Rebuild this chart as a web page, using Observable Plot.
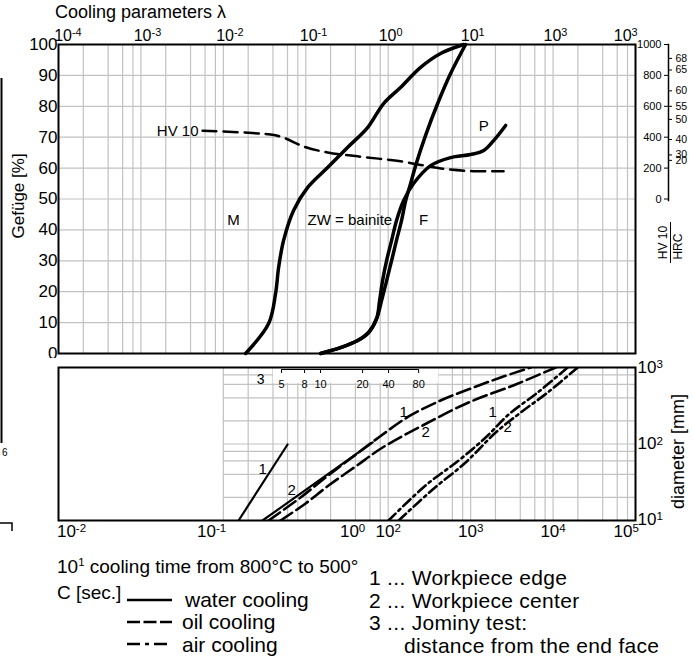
<!DOCTYPE html>
<html><head><meta charset="utf-8">
<script src="https://cdn.jsdelivr.net/npm/d3@7"></script>
<script src="https://cdn.jsdelivr.net/npm/@observablehq/plot@0.6"></script>
<style>
body{margin:0;background:#fff;font-family:"Liberation Sans",Arial,sans-serif;}
#wrap{position:relative;width:693px;height:658px;overflow:hidden;background:#fff;}
.t{position:absolute;white-space:nowrap;color:#000;line-height:1;}
.abs{position:absolute;}
</style></head><body><div id="wrap">
<div id="topPlot" class="abs" style="left:0;top:0"></div>
<div id="botPlot" class="abs" style="left:0;top:358px"></div>
</div>
<script>
// ---------- TOP PANEL DATA ----------
const pctTicks = [0,10,20,30,40,50,60,70,80,90,100];
const topTickLabels = ["10⁻⁴","10⁻³","10⁻²","10⁻¹","10⁰","10¹","10³","10³"];
const topTickLabelLambda = [1.3e-4, 1.2e-3, 1.2e-2, 0.124, 1.07, 10.6, 107, 760];
const hvTicks = [0,200,400,600,800,1000];
const hrcTicks = [68,65,60,55,50,40,30,20];
const hrcAsHV = [910,835,700,600,515,385,285,250];

// Martensite / bainite boundary
const mLambda = [0.0186,0.0354,0.043,0.0468,0.0538,0.0711,0.105,0.184,0.321,0.562,0.879,1.41,2.47,4.32,8.22];
const mPct    = [0,9.7,19.4,27.8,36.6,46.3,53.7,60.2,66.7,73.1,80.9,86.1,92.6,97.1,100];
// bainite / ferrite boundary
const fLambda = [0.151,0.264,0.426,0.578,0.723,0.832,0.957,1.10,1.26,1.45,1.63,1.87,2.15,2.84,3.98,5.71,8.69];
const fPct    = [0,1.9,4.2,6.8,11.3,17.2,23.6,30.1,36.6,43.0,49.5,55.0,60.8,70.6,80.9,90.6,100];
// ferrite / pearlite boundary
const pLambda = [0.151,0.264,0.426,0.578,0.723,0.787,0.855,0.957,1.10,1.26,1.54,2.03,3.27,5.71,9.98,14.4,19.0,26.6];
const pPct    = [0,1.9,4.2,6.8,11.3,17.2,23.6,30.1,36.6,43.0,49.5,55.0,60.8,63.4,64.4,65.7,68.9,73.8];
// hardness HV 10
const hvLambda = [0.0056,0.0374,0.0538,0.094,0.184,0.426,1.41,3.01,5.26,10.9,25.1];
const hvValues = [442,417,397,340,301,276,244,212,192,180,180];

const phaseLabels = ["M","F","P"];
const phaseLambda = [0.0133,2.69,14.4];
const phasePct = [43,43,73.5];
const bainiteLabel = "ZW = bainite", bainiteLambda = 0.105, bainitePct = 43;

// ---------- BOTTOM PANEL DATA ----------
const botTickLabels = ["10⁻²","10⁻¹","10⁰","10²","10³","10⁴","10⁵"];
const botTickT = [0.0144,0.72,37,100,1000,10000,77000];
const diamLabels = ["10³","10²","10¹"];
const diamValues = [1000,100,10.4];
const gridD = [20,40,60,80,100,200,400,600,800];

const water1T = [1.53,6.01], water1D = [10,98.5];
const water2T = [2.99,64.7], water2D = [10,104.7];
const oil1T = [3.54,8.65,17.4,35.0,76.4,177,432,1000,2313,5350];
const oil1D = [10,20,36.5,64.6,121.6,229,370,531,740,1000];
const oil2T = [4.94,9.95,18.9,40.2,85.5,261,946,3516,10760];
const oil2D = [10,16.7,28.7,50.8,90,174.6,349,600,1000];
const air1T = [101,284,715,1521,2892,6505,15040];
const air1D = [10,28.7,60.8,121.6,243,471,1000];
const air2T = [134,346,869,2011,4045,8600,19900];
const air2D = [10,25.4,57.3,141,258,471,1000];

const curveLabels = ["1","2","1","2","1","2"];
const curveLabelT = [2.99,6.72,154,284,1849,2812];
const curveLabelD = [46.4,24.7,258,141,258,164];

const jominyLabels = ["5","8","10","20","40","80"];
const jominyT = [5.08,9.67,15.1,48.9,101,234];

// ---------- helpers ----------
const font = '"Liberation Sans", Arial, sans-serif';
const pts = (xs, ys) => xs.map((x,i)=>({x, y: ys[i]}));
const gridMult = [2,4,6,8,10];
const topGridLambda = [];
for (let k=-4;k<=2;k++) for (const m of gridMult) topGridLambda.push(m*Math.pow(10,k));
const botGridT = [1];
for (let k=0;k<=4;k++) for (const m of gridMult) botGridT.push(m*Math.pow(10,k));
const gridColor = "#c2c2c2";

// ---------- TOP PLOT ----------
const topPlot = Plot.plot({
  width: 693, height: 362,
  marginTop: 44, marginBottom: 9, marginLeft: 58, marginRight: 58,
  x: {type: "log", domain: [1e-4, 1e3], axis: null},
  y: {domain: [0, 100], axis: null},
  style: {fontFamily: font, background: "white", color: "black", overflow: "visible"},
  marks: [
    Plot.ruleX(topGridLambda, {stroke: gridColor, strokeWidth: 1.2}),
    Plot.ruleY(pctTicks.slice(1,-1), {stroke: gridColor, strokeWidth: 1.2}),
    Plot.text(phaseLabels, {x: phaseLambda, y: phasePct, text: d=>d, textAnchor: "middle", fontSize: 15}),
    Plot.text([bainiteLabel], {x: [bainiteLambda], y: [bainitePct], text: d=>d, textAnchor: "start", fontSize: 15}),
    Plot.text(["HV 10"], {x: [0.005], y: [72], text: d=>d, textAnchor: "end", fontSize: 15}),
    Plot.line(pts(hvLambda, hvValues.map(v=>50+v/20)), {x:"x", y:"y", stroke:"black", strokeWidth: 2.5, strokeDasharray: "14,7", curve: "catmull-rom"}),
    Plot.line(pts(mLambda, mPct), {x:"x", y:"y", stroke:"black", strokeWidth: 3.5, curve: "catmull-rom"}),
    Plot.line(pts(fLambda, fPct), {x:"x", y:"y", stroke:"black", strokeWidth: 3.5, curve: "catmull-rom"}),
    Plot.line(pts(pLambda, pPct), {x:"x", y:"y", stroke:"black", strokeWidth: 3.5, curve: "catmull-rom"}),
    Plot.frame({stroke: "black", strokeWidth: 2}),
    Plot.axisY(pctTicks, {anchor: "left", tickSize: 0, tickPadding: 1, fontSize: 17, label: null}),
    Plot.text(["Gefüge [%]"], {frameAnchor: "left", y: [51], text: d=>d, rotate: -90, dx: -40, textAnchor: "middle", fontSize: 17}),
    Plot.text(topTickLabels, {x: topTickLabelLambda, text: d=>d, frameAnchor: "top", dy: -15, fontSize: 16, textAnchor: "middle"}),
    // hardness axis on the right
    Plot.frame({anchor: "right", dx: 33, insetBottom: 153, stroke: "black", strokeWidth: 1.5}),
    Plot.ruleY(hvTicks, {y: d=>50+d/20, insetLeft: 606, insetRight: -33, stroke: "black", strokeWidth: 1}),
    Plot.ruleY(hrcTicks, {y: (d,i)=>50+hrcAsHV[i]/20, insetLeft: 610, insetRight: -37, stroke: "black", strokeWidth: 1}),
    Plot.text(hvTicks, {y: d=>50+d/20, text: d=>String(d), frameAnchor: "right", dx: 26, textAnchor: "end", fontSize: 11}),
    Plot.text(hrcTicks, {y: (d,i)=>50+hrcAsHV[i]/20, text: d=>String(d), frameAnchor: "right", dx: 40, textAnchor: "start", fontSize: 10.5}),
    Plot.text(["HV 10"], {frameAnchor: "right", y: [35.9], text: d=>d, rotate: -90, dx: 28, textAnchor: "middle", fontSize: 12}),
    Plot.frame({anchor: "right", dx: 35, insetTop: 178, insetBottom: 91, stroke: "black", strokeWidth: 1}),
    Plot.text(["HRC"], {frameAnchor: "right", y: [34.6], text: d=>d, rotate: -90, dx: 43, textAnchor: "middle", fontSize: 12})
  ]
});
document.getElementById("topPlot").appendChild(topPlot);

// ---------- BOTTOM PLOT ----------
const botPlot = Plot.plot({
  width: 693, height: 192,
  marginTop: 9, marginBottom: 30, marginLeft: 58, marginRight: 58,
  x: {type: "log", domain: [1e-2, 1e5], axis: null},
  y: {type: "log", domain: [10, 1000], axis: null},
  style: {fontFamily: font, background: "white", color: "black", overflow: "visible"},
  marks: [
    Plot.ruleX(botGridT, {y1: 10, y2: 1000, stroke: gridColor, strokeWidth: 1.2}),
    Plot.ruleY(gridD, {x1: 1, x2: 1e5, stroke: gridColor, strokeWidth: 1.2}),
    Plot.rect([0], {x1: jominyT[0]*0.8, x2: jominyT[5]*1.75, y1: 617, y2: 1000, fill: "white"}),
    Plot.ruleY([10], {x1: jominyT[0], x2: jominyT[5], dy: -151, stroke: "black", strokeWidth: 1.2}),
    Plot.tickX(jominyT, {x: d=>d, insetTop: 2, insetBottom: 147, stroke: "black", strokeWidth: 1}),
    Plot.text(jominyLabels, {x: jominyT, text: d=>d, frameAnchor: "top", dy: 13, textAnchor: "middle", fontSize: 11}),
    Plot.text(["3"], {x: [2.83], text: d=>d, frameAnchor: "top", dy: 7, textAnchor: "middle", fontSize: 14}),
    Plot.line(pts(water1T, water1D), {x:"x", y:"y", stroke:"black", strokeWidth: 2.2, clip: true}),
    Plot.line(pts(water2T, water2D), {x:"x", y:"y", stroke:"black", strokeWidth: 2.2, clip: true}),
    Plot.line(pts(oil1T, oil1D), {x:"x", y:"y", stroke:"black", strokeWidth: 2.6, strokeDasharray: "14,5", curve: "catmull-rom", clip: true}),
    Plot.line(pts(oil2T, oil2D), {x:"x", y:"y", stroke:"black", strokeWidth: 2.6, strokeDasharray: "14,5", curve: "catmull-rom", clip: true}),
    Plot.line(pts(air1T, air1D), {x:"x", y:"y", stroke:"black", strokeWidth: 2.6, strokeDasharray: "10,4,2.5,4", curve: "catmull-rom", clip: true}),
    Plot.line(pts(air2T, air2D), {x:"x", y:"y", stroke:"black", strokeWidth: 2.6, strokeDasharray: "10,4,2.5,4", curve: "catmull-rom", clip: true}),
    Plot.text(curveLabels, {x: curveLabelT, y: curveLabelD, text: d=>d, textAnchor: "middle", fontSize: 15}),
    Plot.frame({stroke: "black", strokeWidth: 2}),
    Plot.text(botTickLabels, {x: botTickT, text: d=>d, frameAnchor: "bottom", dy: 16, textAnchor: "middle", fontSize: 17}),
    Plot.text(diamLabels, {y: diamValues, text: d=>d, frameAnchor: "right", dx: 2, textAnchor: "start", fontSize: 17}),
    Plot.text(["diameter [mm]"], {y: [80], text: d=>d, frameAnchor: "right", dx: 43, rotate: -90, textAnchor: "middle", fontSize: 18})
  ]
});
document.getElementById("botPlot").appendChild(botPlot);

// superscript rendering of power-of-ten labels
const supMap = {"⁻":"-","⁰":"0","¹":"1","²":"2","³":"3","⁴":"4","⁵":"5","⁶":"6","⁷":"7","⁸":"8","⁹":"9"};
[topPlot, botPlot].forEach(svg=>{
  svg.querySelectorAll("text").forEach(t=>{
    const m = /^10([⁻⁰¹²³⁴⁵⁶⁷⁸⁹]+)$/.exec(t.textContent);
    if (!m) return;
    const exp = [...m[1]].map(c=>supMap[c]).join("");
    const target = t.querySelector("tspan") || t;
    target.textContent = "10";
    const ts = document.createElementNS("http://www.w3.org/2000/svg","tspan");
    ts.setAttribute("dy","-0.42em");
    ts.setAttribute("font-size","0.68em");
    ts.textContent = exp;
    target.appendChild(ts);
  });
});

// ---------- captions / legend ----------
const wrap = document.getElementById("wrap");
function addText(txt, left, top, size){
  const d = document.createElement("div");
  d.className = "t"; d.textContent = txt;
  d.style.left = left+"px"; d.style.top = top+"px"; d.style.fontSize = size+"px";
  wrap.appendChild(d);
  return d;
}
addText("Cooling parameters λ", 55, 3, 18);
const cap = addText("10", 57, 557, 19);
const capSup = document.createElement("sup"); capSup.textContent = "1";
capSup.style.fontSize = "0.6em"; cap.appendChild(capSup);
cap.appendChild(document.createTextNode(" cooling time from 800°C to 500°"));
addText("C [sec.]", 57, 583, 19);
const legendNames = ["water cooling","oil cooling","air cooling"];
const legendDash = [null,"13,3.5","13,5,4,5"];
const legendTop = [589, 611, 634];
legendNames.forEach((n,i)=>addText(n, i===0?185:182, legendTop[i], 21));
const notes = ["1 ... Workpiece edge","2 ... Workpiece center","3 ... Jominy test:","distance from the end face"];
const notesLeft = [369,369,369,404];
const notesTop = [567,590,612,635];
notes.forEach((n,i)=>{ const d = addText(n, notesLeft[i], notesTop[i], 21); d.style.letterSpacing = "0.3px"; });
const sw = d3.create("svg").attr("width",50).attr("height",60)
  .style("position","absolute").style("left","125px").style("top","590px");
legendDash.forEach((dash,i)=>{
  sw.append("line").attr("x1",2).attr("x2",47).attr("y1",10+i*22).attr("y2",10+i*22)
    .attr("stroke","black").attr("stroke-width",2.6).attr("stroke-dasharray",dash);
});
wrap.appendChild(sw.node());
// clipped neighbour figure fragments at left edge
const frag = d3.create("svg").attr("width",20).attr("height",658)
  .style("position","absolute").style("left","0").style("top","0");
frag.append("line").attr("x1",1.5).attr("x2",1.5).attr("y1",78).attr("y2",443).attr("stroke","black").attr("stroke-width",2);
frag.append("text").attr("x",2).attr("y",456).attr("font-size",10).attr("font-family",font).text("6");
frag.append("path").attr("d","M0,523 H12 V531").attr("fill","none").attr("stroke","black").attr("stroke-width",1.5);
wrap.appendChild(frag.node());
</script></body></html>
